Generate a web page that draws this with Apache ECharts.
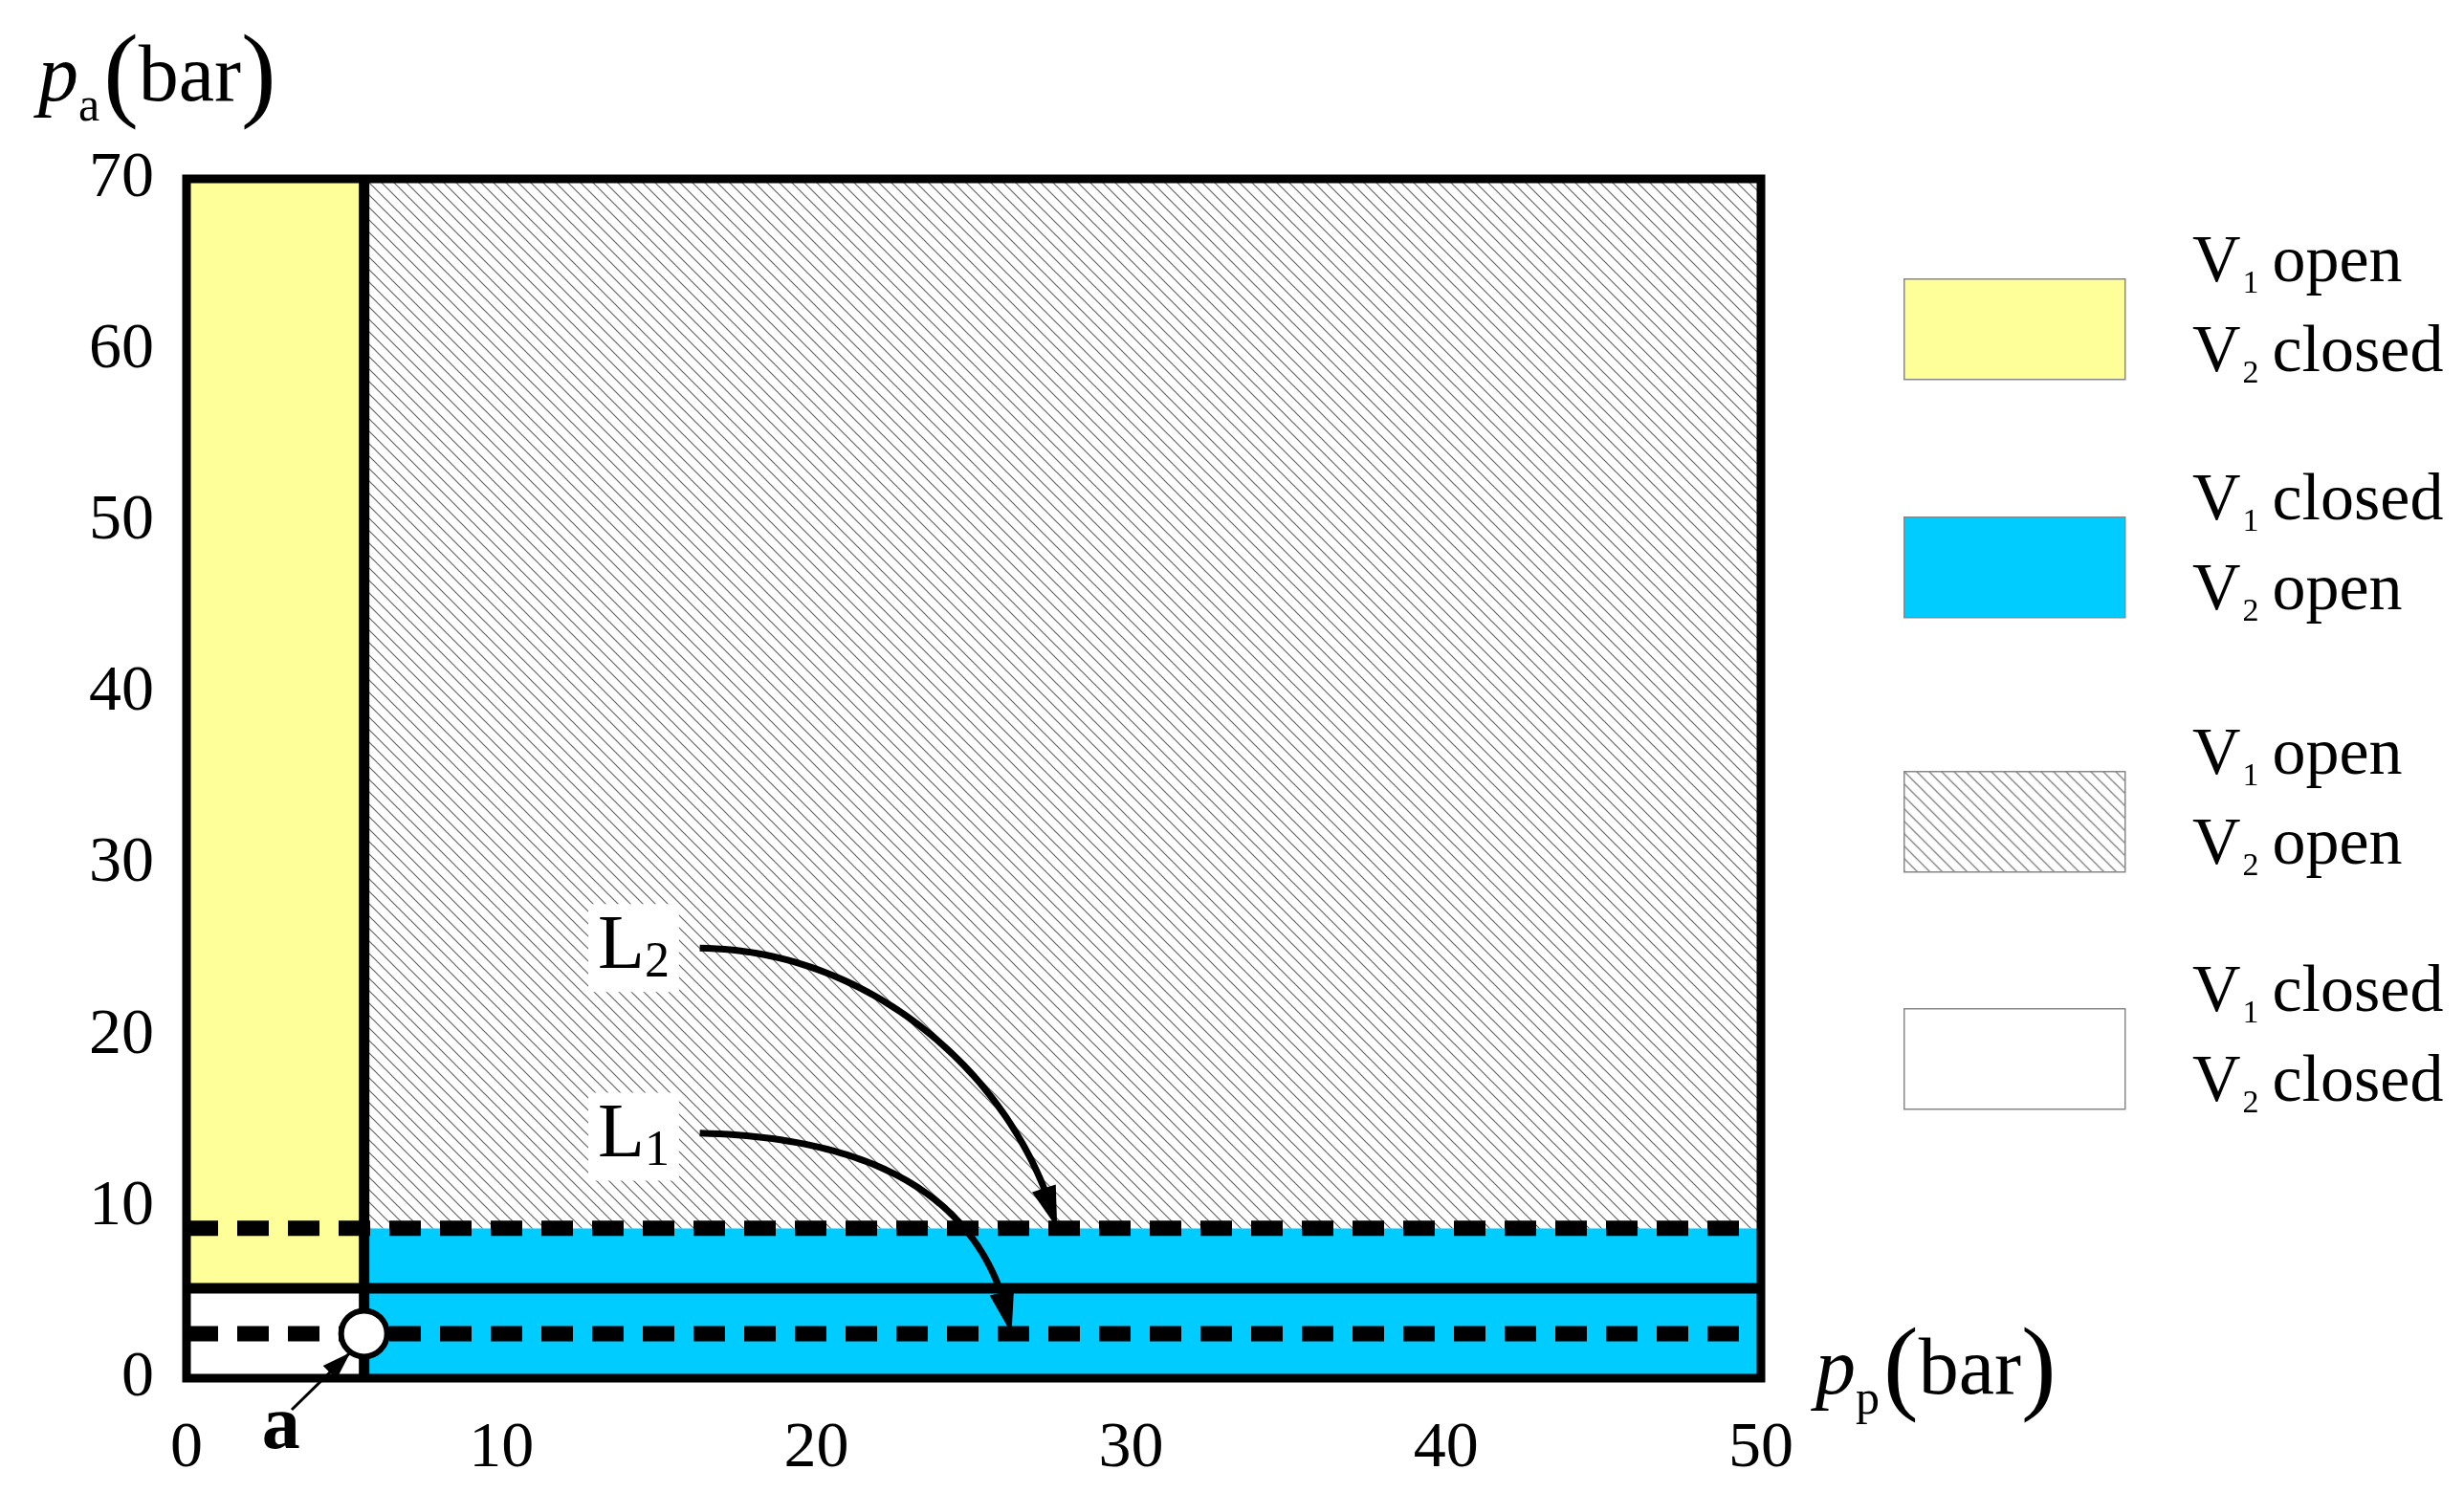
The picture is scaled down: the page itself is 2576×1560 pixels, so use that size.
<!DOCTYPE html>
<html>
<head>
<meta charset="utf-8">
<script src="https://cdn.jsdelivr.net/npm/echarts@6/dist/echarts.min.js"></script>
<style>html,body{margin:0;padding:0;background:#fff}#c{width:2576px;height:1560px}</style>
</head>
<body>
<div id="c"></div>
<script>
// axis ranges and ticks
var xTicks = [0, 10, 20, 30, 40, 50];
var yTicks = [0, 10, 20, 30, 40, 50, 60, 70];
// boundaries (bar)
var ppSwitch = 5.64;   // vertical border
var paSolid = 5.25;    // solid horizontal line
var paL2 = 8.75;       // dashed line L2
var paL1 = 2.6;        // dashed line L1
// regions: [x0, x1, y0, y1, kind]
var regions = [
  [0, ppSwitch, paSolid, 70, 'yellow'],
  [0, ppSwitch, 0, paSolid, 'white'],
  [ppSwitch, 50, 0, paL2, 'blue'],
  [ppSwitch, 50, paL2, 70, 'hatch']
];
// curves: start, ctrl1, ctrl2, end
var curveL2 = [[16.3, 25.1], [22, 25], [26.5, 17], [27.65, paL2]];
var curveL1 = [[16.3, 14.3], [23, 14], [25.6, 9], [26.2, paL1]];
var arrowA = [[3.34, -1.84], [5.2, 1.5]];
var labels = [['L', '2', 14.2, 25.1], ['L', '1', 14.2, 14.1]];
var legendItems = [
  ['yellow', 'open', 'closed'],
  ['blue', 'closed', 'open'],
  ['hatch', 'open', 'open'],
  ['white', 'closed', 'closed']
];

var hc = document.createElement('canvas');
hc.width = 13; hc.height = 13;
var g = hc.getContext('2d');
g.fillStyle = '#fff'; g.fillRect(0, 0, 13, 13);
g.strokeStyle = '#666'; g.lineWidth = 1.2;
g.beginPath(); g.moveTo(0, 0); g.lineTo(13, 13); g.moveTo(-1, 12); g.lineTo(1, 14); g.moveTo(12, -1); g.lineTo(14, 1); g.stroke();
var hatch = {image: hc, repeat: 'repeat'};
var fills = {yellow: '#ffff99', white: '#ffffff', blue: '#00ccff', hatch: hatch};
var FONT = '"Liberation Serif", "DejaVu Serif", serif';

function bez(p, t) {
  var u = 1 - t;
  return [u*u*u*p[0][0] + 3*u*u*t*p[1][0] + 3*u*t*t*p[2][0] + t*t*t*p[3][0],
          u*u*u*p[0][1] + 3*u*u*t*p[1][1] + 3*u*t*t*p[2][1] + t*t*t*p[3][1]];
}
function head(tip, from, len, w) {
  var dx = tip[0] - from[0], dy = tip[1] - from[1], d = Math.sqrt(dx*dx + dy*dy);
  dx /= d; dy /= d;
  var bx = tip[0] - dx*len, by = tip[1] - dy*len;
  return {type: 'polygon', shape: {points: [tip, [bx - dy*w, by + dx*w], [bx + dy*w, by - dx*w]]}, style: {fill: '#000'}};
}
function curveEl(pts, api) {
  var px = pts.map(function (p) { return api.coord(p); });
  var path = [];
  for (var i = 0; i <= 60; i++) path.push(bez(px, i / 60 * 0.93));
  return {type: 'group', children: [
    {type: 'polyline', shape: {points: path}, style: {stroke: '#000', lineWidth: 7, fill: null}},
    head(px[3], bez(px, 0.9), 44, 13)
  ]};
}

var chart = echarts.init(document.getElementById('c'));
var lineBase = {type: 'line', symbol: 'none', silent: true, animation: false};
var option = {
  animation: false,
  grid: {left: 195, right: 735, top: 187, bottom: 119},
  xAxis: {type: 'value', min: 0, max: 50, interval: 10, axisLine: {show: false}, axisTick: {show: false}, splitLine: {show: false},
    axisLabel: {fontFamily: FONT, fontSize: 68, color: '#000', margin: 40}},
  yAxis: {type: 'value', min: 0, max: 70, interval: 10, axisLine: {show: false}, axisTick: {show: false}, splitLine: {show: false},
    axisLabel: {fontFamily: FONT, fontSize: 68, color: '#000', margin: 34}},
  series: [
    {type: 'custom', z: 1, data: regions, renderItem: function (p, api) {
      var r = regions[p.dataIndex];
      var a = api.coord([r[0], r[3]]), b = api.coord([r[1], r[2]]);
      return {type: 'rect', shape: {x: a[0], y: a[1], width: b[0] - a[0], height: b[1] - a[1]}, style: {fill: fills[r[4]]}};
    }},
    Object.assign({}, lineBase, {z: 3, data: [[0, paSolid], [50, paSolid]], lineStyle: {color: '#000', width: 11}}),
    Object.assign({}, lineBase, {z: 3, data: [[ppSwitch, 0], [ppSwitch, 70]], lineStyle: {color: '#000', width: 11}}),
    Object.assign({}, lineBase, {z: 4, data: [[0, paL2], [50, paL2]], lineStyle: {color: '#000', width: 16, type: [33, 20]}}),
    Object.assign({}, lineBase, {z: 4, data: [[0, paL1], [50, paL1]], lineStyle: {color: '#000', width: 16, type: [33, 20]}}),
    {type: 'custom', z: 5, data: [0], renderItem: function (p, api) {
      var a = api.coord([0, 70]), b = api.coord([50, 0]);
      return {type: 'rect', shape: {x: a[0], y: a[1], width: b[0] - a[0], height: b[1] - a[1]}, style: {fill: null, stroke: '#000', lineWidth: 9}};
    }},
    {type: 'custom', z: 6, data: labels, renderItem: function (p, api) {
      var l = labels[p.dataIndex], c = api.coord([l[2], l[3]]);
      return {type: 'text', x: c[0], y: c[1], style: {text: '{m|' + l[0] + '}{s|' + l[1] + '}', align: 'center', verticalAlign: 'middle',
        backgroundColor: '#fff', padding: [4, 10, 4, 10],
        rich: {m: {fontFamily: FONT, fontSize: 80, fill: '#000'}, s: {fontFamily: FONT, fontSize: 52, fill: '#000', verticalAlign: 'bottom', padding: [32, 0, 0, 0]}}}};
    }},
    {type: 'custom', z: 7, data: [0, 1], renderItem: function (p, api) {
      return curveEl(p.dataIndex === 0 ? curveL2 : curveL1, api);
    }},
    {type: 'custom', z: 8, data: [[ppSwitch, paL1]], renderItem: function (p, api) {
      var c = api.coord([ppSwitch, paL1]);
      var s = api.coord(arrowA[0]), e = api.coord(arrowA[1]);
      var t = api.coord([3.0, -2.9]);
      return {type: 'group', children: [
        {type: 'circle', shape: {cx: c[0], cy: c[1], r: 24}, style: {fill: '#fff', stroke: '#000', lineWidth: 6}},
        {type: 'line', shape: {x1: s[0], y1: s[1], x2: e[0], y2: e[1]}, style: {stroke: '#000', lineWidth: 3}},
        head(e, s, 30, 10),
        {type: 'text', x: t[0], y: t[1], style: {text: 'a', fontFamily: FONT, fontWeight: 'bold', fontSize: 80, fill: '#000', align: 'center', verticalAlign: 'middle'}}
      ]};
    }}
  ],
  graphic: []
};

var rich = {
  p: {fontFamily: FONT, fontStyle: 'italic', fontSize: 84, fill: '#000'},
  s: {fontFamily: FONT, fontSize: 50, fill: '#000', verticalAlign: 'bottom', padding: [36, 4, 0, 0]},
  b: {fontFamily: FONT, fontSize: 110, fill: '#000', fontWeight: 100},
  t: {fontFamily: FONT, fontSize: 84, fill: '#000'}
};
option.graphic.push({type: 'text', left: 40, top: 28, style: {text: '{p|p}{s|a}{b|(}{t|bar}{b|)}', rich: rich}});
option.graphic.push({type: 'text', left: 1898, top: 1380, style: {text: '{p|p}{s|p}{b|(}{t|bar}{b|)}', rich: rich}});

var boxTops = [291, 540, 806, 1054];
legendItems.forEach(function (it, i) {
  var y = boxTops[i];
  option.graphic.push({type: 'rect', left: 1990, top: y, shape: {width: 231, height: 105},
    style: {fill: fills[it[0]], stroke: '#888', lineWidth: 1.5}});
  var lr = {v: {fontFamily: FONT, fontSize: 70, fill: '#000'}, n: {fontFamily: FONT, fontSize: 34, fill: '#000', verticalAlign: 'bottom', padding: [42, 14, 0, 2]}};
  option.graphic.push({type: 'text', left: 2292, top: y - 50, style: {text: '{v|V}{n|1}{v|' + it[1] + '}', rich: lr}});
  option.graphic.push({type: 'text', left: 2292, top: y + 44, style: {text: '{v|V}{n|2}{v|' + it[2] + '}', rich: lr}});
});

chart.setOption(option);
</script>
</body>
</html>
